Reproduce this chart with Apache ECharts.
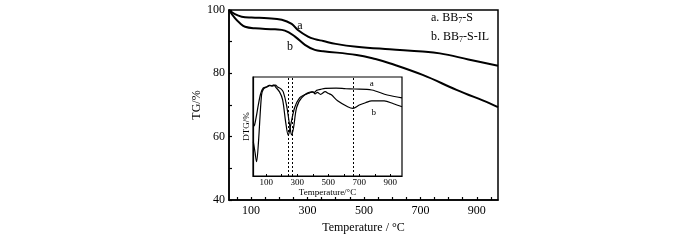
<!DOCTYPE html>
<html>
<head>
  <meta charset="utf-8">
  <style>
    html, body { margin: 0; padding: 0; width: 100%; height: 100%; overflow: hidden; background: #fff; }
  </style>
  <script src="https://cdn.jsdelivr.net/npm/echarts@6/dist/echarts.min.js"></script>
</head>
<body>
  <div id="container" style="width:700px;height:240px;"></div>
  <script>
    // TG curves [temperature, mass %]
    var tgA = [[22,100],[43,98.7],[67,97.9],[102,97.6],[160,97.4],[209,96.9],[244,95.6],[266,93.7],[302,91.6],[326,90.8],[356,90.2],[400,89.3],[474,88.4],[591,87.6],[708,86.9],[769,86.3],[870,84.4],[975,82.4]];
    var tgB = [[22,100],[43,97.4],[61,95.8],[79,94.7],[114,94.2],[185,93.9],[220,93.5],[256,91.6],[291,89],[326,87.4],[356,87.0],[474,85.8],[541,84.5],[591,83.2],[708,79.5],[828,74.8],[946,70.5],[975,69.3]];
    // DTG inset curves (arbitrary units)
    var dtgA = [[17,49.8],[25,51.5],[38,61.6],[49,71.7],[64,82.8],[81,88.9],[109,90.2],[125,91.5],[141,90.9],[160,91.8],[173,90],[195,88],[210,85],[231,71.7],[251,51.5],[264,41.4],[276,48.5],[296,69],[328,79],[392,85],[410,84.5],[425,86.5],[450,87.5],[480,88.6],[550,88.8],[610,88.3],[670,87.9],[780,86.9],[880,81.8],[975,79]];
    var dtgB = [[17,34.6],[28,24],[38,14.4],[51,36],[70,82],[83,88],[102,90],[120,91.5],[135,91],[150,92],[160,90],[186,85],[206,77],[225,55],[242,41],[257,51],[283,69],[315,79],[347,82],[380,84],[400,85],[415,83],[430,84.5],[450,82.5],[480,85.2],[500,83.5],[520,82],[560,76],[625,70],[659,68.4],[700,71.7],[740,74],[780,75.8],[860,75.8],[920,73],[975,70]];
    var dashTemps = [242, 266, 659];

    var mainTicks = [50,100,150,200,250,300,350,400,450,500,550,600,650,700,750,800,850,900,950];
    var mainLabels = [100,300,500,700,900];
    var insetTicks = [100,200,300,400,500,600,700,800,900];
    var insetLabels = [100,300,500,700,900];

    var font = 'Liberation Serif';
    var chart = echarts.init(document.getElementById('container'), null, { renderer: 'canvas' });

    var option = {
      animation: false,
      textStyle: { fontFamily: font, color: '#000' },
      grid: [
        { left: 229, right: 202, top: 10, bottom: 40, show: true, borderColor: '#000', borderWidth: 1.5 },
        { left: 253, top: 77, width: 149, height: 99, show: true, borderColor: '#000', borderWidth: 1.2, backgroundColor: '#fff', z: 5 }
      ],
      xAxis: [
        {
          gridIndex: 0, type: 'value', min: 22, max: 975,
          name: 'Temperature / \u00b0C', nameLocation: 'middle', nameGap: 22,
          nameTextStyle: { fontFamily: font, fontSize: 12, color: '#000' },
          axisLine: { lineStyle: { color: '#000', width: 1.5 } },
          axisTick: { inside: true, length: 3, customValues: mainTicks, lineStyle: { color: '#000', width: 1.2 } },
          axisLabel: { customValues: mainLabels, fontFamily: font, fontSize: 12, color: '#000', margin: 5 },
          splitLine: { show: false }
        },
        {
          gridIndex: 1, type: 'value', min: 15, max: 975,
          name: 'Temperature/\u00b0C', nameLocation: 'middle', nameGap: 11,
          nameTextStyle: { fontFamily: font, fontSize: 9, color: '#000' },
          axisLine: { lineStyle: { color: '#000', width: 1.2 } },
          axisTick: { inside: true, length: 2, customValues: insetTicks, lineStyle: { color: '#000' } },
          axisLabel: { customValues: insetLabels, fontFamily: font, fontSize: 9, color: '#000', margin: 2 },
          splitLine: { show: false }, z: 6
        }
      ],
      yAxis: [
        {
          gridIndex: 0, type: 'value', min: 40, max: 100, interval: 10,
          name: 'TG/%', nameLocation: 'middle', nameGap: 18,
          nameTextStyle: { fontFamily: font, fontSize: 12, color: '#000' },
          axisLine: { show: true, lineStyle: { color: '#000', width: 1.5 } },
          axisTick: { inside: true, length: 3, lineStyle: { color: '#000', width: 1.2 } },
          axisLabel: {
            fontFamily: font, fontSize: 12, color: '#000', margin: 4,
            formatter: function (v) { return v % 20 === 0 ? v : ''; }
          },
          splitLine: { show: false }
        },
        {
          gridIndex: 1, type: 'value', min: 0, max: 100,
          name: 'DTG/%', nameLocation: 'middle', nameGap: 2,
          nameTextStyle: { fontFamily: font, fontSize: 9, color: '#000' },
          axisLine: { show: true, lineStyle: { color: '#000', width: 1.2 } },
          axisTick: { show: false }, axisLabel: { show: false },
          splitLine: { show: false }, z: 6
        }
      ],
      graphic: [
        {
          type: 'text', left: 431, top: 12, z: 10,
          style: {
            text: 'a. BB{s|7}-S',
            font: '12px "Liberation Serif"', fill: '#000',
            rich: { s: { fontSize: 8, fontFamily: font, padding: [5, 0, 0, 0] } }
          }
        },
        {
          type: 'text', left: 431, top: 31, z: 10,
          style: {
            text: 'b. BB{s|7}-S-IL',
            font: '12px "Liberation Serif"', fill: '#000',
            rich: { s: { fontSize: 8, fontFamily: font, padding: [5, 0, 0, 0] } }
          }
        }
      ],
      series: [
        {
          name: 'a', type: 'line', xAxisIndex: 0, yAxisIndex: 0, data: tgA, smooth: 0.4,
          showSymbol: false, lineStyle: { color: '#000', width: 2 },
          markPoint: {
            symbolSize: 0, silent: true,
            label: { show: true, formatter: 'a', fontFamily: font, fontSize: 12, color: '#000' },
            data: [{ coord: [273, 95.1] }]
          }
        },
        {
          name: 'b', type: 'line', xAxisIndex: 0, yAxisIndex: 0, data: tgB, smooth: 0.4,
          showSymbol: false, lineStyle: { color: '#000', width: 2 },
          markPoint: {
            symbolSize: 0, silent: true,
            label: { show: true, formatter: 'b', fontFamily: font, fontSize: 12, color: '#000' },
            data: [{ coord: [238, 88.5] }]
          }
        },
        {
          name: 'dtgA', type: 'line', xAxisIndex: 1, yAxisIndex: 1, data: dtgA, smooth: 0.3,
          showSymbol: false, lineStyle: { color: '#000', width: 1.2 }, z: 7,
          markPoint: {
            symbolSize: 0, silent: true,
            label: { show: true, formatter: 'a', fontFamily: font, fontSize: 9, color: '#000' },
            data: [{ coord: [780, 93] }]
          },
          markLine: {
            silent: true, symbol: 'none', label: { show: false },
            lineStyle: { color: '#000', type: [2, 2], width: 1 },
            data: dashTemps.map(function (t) { return { xAxis: t }; })
          }
        },
        {
          name: 'dtgB', type: 'line', xAxisIndex: 1, yAxisIndex: 1, data: dtgB, smooth: 0.3,
          showSymbol: false, lineStyle: { color: '#000', width: 1.2 }, z: 7,
          markPoint: {
            symbolSize: 0, silent: true,
            label: { show: true, formatter: 'b', fontFamily: font, fontSize: 9, color: '#000' },
            data: [{ coord: [793, 63.6] }]
          }
        }
      ]
    };

    chart.setOption(option);
  </script>
</body>
</html>
